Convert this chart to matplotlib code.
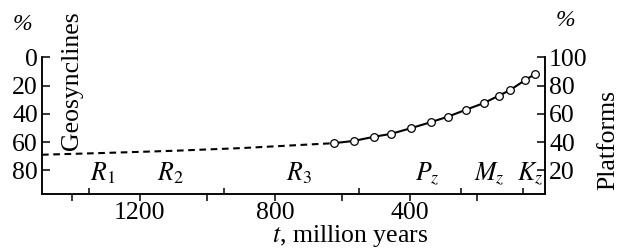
import matplotlib
matplotlib.use("Agg")
import matplotlib.pyplot as plt

plt.rcParams['font.family'] = ['Liberation Serif', 'DejaVu Serif']
plt.rcParams['mathtext.fontset'] = 'stix'

# Data
t_dash = [1490, 1300, 1100, 900, 750, 625]
plat_dash = [31, 32.3, 33.8, 35.7, 37.6, 39.2]
t_pts = [625, 566, 507, 456, 397, 338, 287, 235, 182, 136, 104, 58, 29]
plat_pts = [39.2, 40.8, 43.7, 45.8, 49.8, 54.1, 58.0, 62.8, 67.5, 72.9, 76.7, 84.0, 88.2]
era_bounds = [1350, 950, 550, 248, 66]
era_labels = ['$R_1$', '$R_2$', '$R_3$', '$P_z$', '$M_z$', '$K_z$']
era_pos = [1310, 1110, 730, 350, 165, 45]
x_major = [1400, 1200, 1000, 800, 600, 400, 200]
x_major_labels = ['', '1200', '', '800', '', '400', '']
left_ticks = [0, 20, 40, 60, 80]
right_ticks = [20, 40, 60, 80, 100]

fig = plt.figure(figsize=(6.18, 2.48), dpi=100)
ax = fig.add_axes([42/618, 1-194/248, (545-42)/618, (194-57.3)/248])
ax2 = ax.twinx()

fs = 18.5
ax.set_xlim(1490, 0)
ax.set_ylim(96.8, 0)
ax2.set_ylim(3.2, 100)

ax2.plot(t_dash, plat_dash, color='black', lw=1.5, ls=(0, (3.2, 2.2)))
ax2.plot(t_pts, plat_pts, color='black', lw=1.5, marker='o', ms=5.5,
         mfc='white', mec='black', mew=0.9, zorder=3, clip_on=False)

for a in (ax, ax2):
    a.spines['top'].set_visible(False)
    a.spines['left'].set_linewidth(1.1)
    a.spines['right'].set_linewidth(1.1)
    a.spines['bottom'].set_linewidth(1.1)

ax.set_xticks(x_major)
ax.set_xticklabels(x_major_labels, fontsize=fs)
ax.set_xticks(era_bounds, minor=True)
ax.tick_params(axis='x', which='major', direction='out', length=5, width=1.1, pad=1)
ax.tick_params(axis='x', which='minor', direction='in', length=4.5, width=1.1)

ax.set_yticks(left_ticks)
ax.set_yticklabels([str(v) for v in left_ticks], fontsize=fs)
ax.tick_params(axis='y', direction='in', length=5.5, width=1.1, pad=3)
ax2.set_yticks(right_ticks)
ax2.set_yticklabels([str(v) for v in right_ticks], fontsize=fs)
ax2.tick_params(axis='y', direction='in', length=5.5, width=1.1, pad=3)

for lab, x in zip(era_labels, era_pos):
    ax.text(x, 82, lab, fontsize=fs, ha='center', va='center')

fig.text(22/618, 1-25/248, '%', fontsize=17, style='italic', ha='center', va='center')
fig.text(565/618, 1-20/248, '%', fontsize=17, style='italic', ha='center', va='center')
fig.text(72/618, 1-81/248, 'Geosynclines', fontsize=fs, rotation=90, ha='center', va='center')
fig.text(608/618, 1-140/248, 'Platforms', fontsize=fs, rotation=90, ha='center', va='center')
fig.text(350/618, 1-236/248, '$t$, million years', fontsize=fs, ha='center', va='center')

fig.savefig('out.png', dpi=100)
